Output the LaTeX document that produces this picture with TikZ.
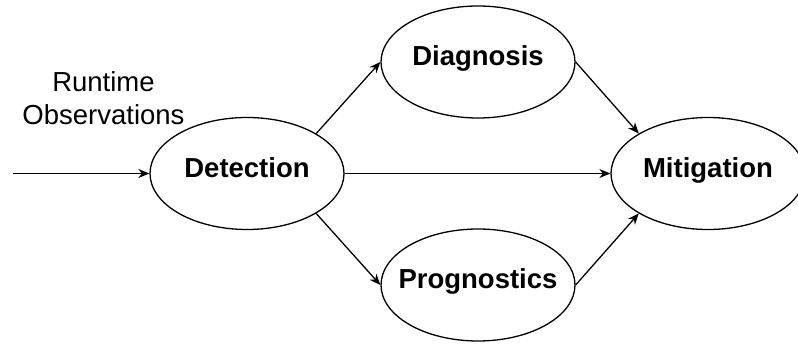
\documentclass[tikz,border=0pt]{standalone}
\usepackage{fontspec}
\setmainfont{Liberation Sans}
\usetikzlibrary{shapes.geometric,arrows.meta}
\tikzset{
  stage/.style={ellipse, draw, line width=1.3pt, minimum width=194pt, minimum height=112pt,
    inner xsep=-30pt, inner ysep=0pt, font=\fontsize{27.5}{32}\selectfont\bfseries, text height=0.716em, text depth=0pt},
  flow/.style={line width=1.3pt, -{Stealth[length=11pt,width=9pt,inset=3.5pt]}},
  plain/.style={font=\fontsize{27.5}{33}\selectfont, align=center, inner sep=0pt}
}
\begin{document}
\begin{tikzpicture}[x=1pt,y=-1pt]
\clip (0,0) rectangle (798,344);
\fill[white] (0,0) rectangle (798,344);
\node[stage] (det) at (247,173.5) {Detection};
\node[stage] (dia) at (478,62) {Diagnosis};
\node[stage] (pro) at (478,285) {Prognostics};
\node[stage] (mit) at (708,173.5) {Mitigation};
\node[plain] (obs) at (103.5,98.5) {Runtime\\Observations};
\coordinate (in) at (13,173.5);
\draw[flow] (in) -- (det);
\draw[flow] (det.30) -- (dia.west);
\draw[flow] (det.-30) -- (pro.west);
\draw[flow] (det) -- (mit);
\draw[flow] (dia.east) -- (mit.150);
\draw[flow] (pro.east) -- (mit.210);
\end{tikzpicture}
\end{document}
